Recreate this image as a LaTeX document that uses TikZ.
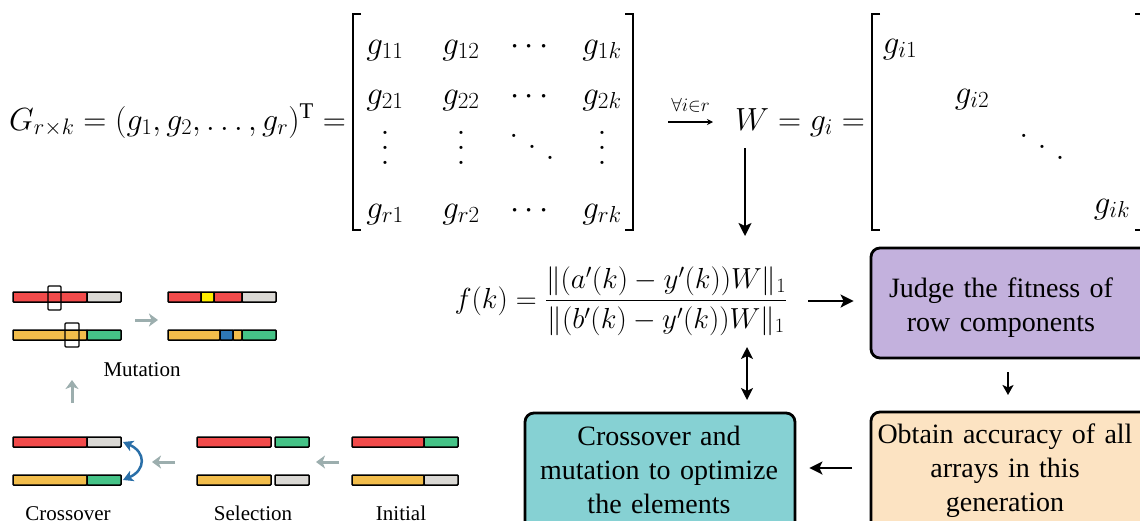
\RequirePackage{fix-cm}
\documentclass[tikz,border=0pt]{standalone}
\usepackage{amsmath}
\usepackage{fontspec}
\setmainfont{Liberation Serif}
\usetikzlibrary{arrows.meta}
\definecolor{gred}{HTML}{F24B4B}
\definecolor{ggrey}{HTML}{DAD8D4}
\definecolor{gyel}{HTML}{F2BD4B}
\definecolor{ggreen}{HTML}{45C387}
\definecolor{gmuty}{HTML}{FFEE00}
\definecolor{gmutb}{HTML}{2E78B7}
\definecolor{garrow}{HTML}{9CAEAE}
\definecolor{gcurve}{HTML}{2A6FA8}
\definecolor{boxpurple}{HTML}{C3B1DD}
\definecolor{boxorange}{HTML}{FCE3C2}
\definecolor{boxteal}{HTML}{86D1D3}
\newcommand\myvdots{\vbox{\baselineskip=0.45em\lineskiplimit=-10em\hbox{$.$}\hbox{$.$}\hbox{$.$}}}
\newcommand\myddots{\mathinner{\mkern1mu\raise0.75em\hbox{$.$}\mkern5mu\raise0.42em\hbox{$.$}\mkern5mu\raise0.09em\hbox{$.$}\mkern1mu}}
\tikzset{
  mth/.style={inner sep=0pt, font=\fontsize{32}{38}\selectfont},
  ent/.style={inner sep=0pt, font=\fontsize{33}{39}\selectfont},
  fkstyle/.style={inner sep=0pt, font=\fontsize{29}{35}\selectfont},
  brk/.style={line width=2.2pt, line cap=butt, line join=miter},
  arr/.style={line width=2pt, -{Stealth[length=13pt,width=13pt,inset=3pt]}},
  sarr/.style={line width=2pt, -{Stealth[length=10pt,width=11pt,inset=2.5pt]}},
  darr/.style={line width=2pt, {Stealth[length=12pt,width=12pt,inset=3pt]}-{Stealth[length=12pt,width=12pt,inset=3pt]}},
  box/.style={draw=black, line width=2.8pt, rounded corners=9pt, inner sep=0pt},
  boxtext/.style={font=\fontsize{28}{34}\selectfont, text width=270pt, align=center, inner sep=0pt, anchor=base},
  seg/.style={draw=black, line width=1.5pt, rounded corners=0.8pt},
  win/.style={draw=black, line width=1.3pt, rounded corners=1pt},
  garr/.style={draw=garrow, line width=3pt, -{Stealth[length=9pt,width=13pt,inset=2.5pt]}},
  galabel/.style={font=\fontsize{21}{25}\selectfont, inner sep=0pt, anchor=base},
}
\begin{document}
\begin{tikzpicture}[x=1pt,y=-1pt]
\useasboundingbox (0,0) rectangle (1140,520);
\clip (0,0) rectangle (1140,520);

% ---- top formula
\node[mth, anchor=base east] (G) at (346,130) {$G_{r\times k}=(g_1,g_2,\ldots,g_r)^{\mathrm{T}}=$};

% matrix 1
\draw[brk] (361,14) -- (353,14) -- (353,230) -- (361,230);
\draw[brk] (625,14) -- (633,14) -- (633,230) -- (625,230);
\node[ent, anchor=base] (m11) at (385,54) {$g_{11}$};
\node[ent, anchor=base] (m12) at (461,54) {$g_{12}$};
\node[ent, anchor=base] (m13) at (532,54) {$\cdots$};
\node[ent, anchor=base] (m14) at (602,54) {$g_{1k}$};
\node[ent, anchor=base] (m21) at (385,104) {$g_{21}$};
\node[ent, anchor=base] (m22) at (461,104) {$g_{22}$};
\node[ent, anchor=base] (m23) at (532,104) {$\cdots$};
\node[ent, anchor=base] (m24) at (602,104) {$g_{2k}$};
\node[ent] (m31) at (385,148) {$\myvdots$};
\node[ent] (m32) at (461,148) {$\myvdots$};
\node[ent] (m33) at (532,148) {$\myddots$};
\node[ent] (m34) at (602,148) {$\myvdots$};
\node[ent, anchor=base] (m41) at (385,218) {$g_{r1}$};
\node[ent, anchor=base] (m42) at (461,218) {$g_{r2}$};
\node[ent, anchor=base] (m43) at (532,218) {$\cdots$};
\node[ent, anchor=base] (m44) at (602,218) {$g_{rk}$};

% forall arrow
\coordinate (fa1) at (668,122);
\coordinate (fa2) at (713,122);
\draw[line width=1.2pt, -{Stealth[length=6pt,width=6pt]}] (fa1) -- node[above=9pt, inner sep=0pt, font=\fontsize{19}{22}\selectfont] (falabel) {$\forall i{\in} r$} (fa2);

% W
\node[mth, anchor=base west] (W) at (735,130) {$W=g_i=$};

% matrix 2
\draw[brk] (880,14) -- (872,14) -- (872,230) -- (880,230);
\draw[brk] (1135,14) -- (1143,14) -- (1143,230) -- (1135,230);
\node[ent, anchor=base] (w1) at (900,53) {$g_{i1}$};
\node[ent, anchor=base] (w2) at (972,103) {$g_{i2}$};
\node[ent] (w3) at (1042,148) {$\myddots$};
\node[ent, anchor=base] (wk) at (1112,213) {$g_{ik}$};

% down arrow from W
\coordinate (d1) at (745,148);
\coordinate (d2) at (745,236);
\draw[arr] (d1) -- (d2);

% fitness formula
\node[fkstyle] (fk) at (621,301) {$\displaystyle f(k)=\frac{\|(a'(k)-y'(k))W\|_1}{\|(b'(k)-y'(k))W\|_1}$};

% boxes
\node[box, fill=boxpurple, minimum width=280pt, minimum height=110pt] (judge) at (1011,303) {};
\node[boxtext] (judgeT) at (1001,297) {Judge the fitness of\\row components};
\node[box, fill=boxorange, minimum width=280pt, minimum height=130pt] (obtain) at (1011,477) {};
\node[boxtext] (obtainT) at (1005,443) {Obtain accuracy of all\\arrays in this\\generation};
\node[box, fill=boxteal, minimum width=270pt, minimum height=130pt] (cross) at (660,478) {};
\node[boxtext] (crossT) at (659,445) {Crossover and\\mutation to optimize\\the elements};

% flow arrows
\coordinate (r1) at (808,301);
\draw[arr, shorten >=16pt] (r1) -- (r1 -| judge.west);
\coordinate (s1) at (1008,372);
\coordinate (s2) at (1008,395);
\draw[sarr] (s1) -- (s2);
\coordinate (l1) at (852,468);
\draw[arr, shorten >=13pt] (l1) -- (l1 -| cross.east);
\coordinate (v1) at (747,347);
\coordinate (v2) at (747,400);
\draw[darr] (v1) -- (v2);

% ---- genetic algorithm sketch
% mutation (before)
\draw[seg, fill=gred] (13,292) rectangle (87,302);
\draw[seg, fill=ggrey] (87,292) rectangle (121,302);
\draw[seg, fill=gyel] (13,330) rectangle (87,340);
\draw[seg, fill=ggreen] (87,330) rectangle (121,340);
\draw[win] (48,286) rectangle (61,310);
\draw[win] (65,323) rectangle (79,347);
\draw[garr] (135,320) -- (158,320);
% mutation (after)
\draw[seg, fill=gred] (168,292) rectangle (201,302);
\draw[seg, fill=gmuty] (201,292) rectangle (214,302);
\draw[seg, fill=gred] (214,292) rectangle (242,302);
\draw[seg, fill=ggrey] (242,292) rectangle (276,302);
\draw[seg, fill=gyel] (168,330) rectangle (220,340);
\draw[seg, fill=gmutb] (220,330) rectangle (233,340);
\draw[seg, fill=gyel] (233,330) rectangle (242,340);
\draw[seg, fill=ggreen] (242,330) rectangle (276,340);
\node[galabel] (mutlab) at (142,376) {Mutation};
\draw[garr] (72,403) -- (72,380);

% crossover
\draw[seg, fill=gred] (13,437) rectangle (87,447);
\draw[seg, fill=ggrey] (87,437) rectangle (121,447);
\draw[seg, fill=gyel] (13,475) rectangle (87,485);
\draw[seg, fill=ggreen] (87,475) rectangle (121,485);
\draw[gcurve, line width=2.5pt, {Stealth[length=10pt,width=11pt,inset=2.5pt]}-{Stealth[length=10pt,width=11pt,inset=2.5pt]}] (123,442) .. controls (146,452) and (146,470) .. (123,480);
\draw[garr] (175,462) -- (152,462);
% selection
\draw[seg, fill=gred] (197,437) rectangle (271,447);
\draw[seg, fill=ggreen] (275,437) rectangle (309,447);
\draw[seg, fill=gyel] (197,475) rectangle (271,485);
\draw[seg, fill=ggrey] (275,475) rectangle (309,485);
\draw[garr] (339,462) -- (316,462);
% initial
\draw[seg, fill=gred] (352,437) rectangle (424,447);
\draw[seg, fill=ggreen] (424,437) rectangle (458,447);
\draw[seg, fill=gyel] (352,475) rectangle (424,485);
\draw[seg, fill=ggrey] (424,475) rectangle (458,485);

\node[galabel] (crosslab) at (68,520) {Crossover};
\node[galabel] (sellab) at (253,520) {Selection};
\node[galabel] (initlab) at (401,520) {Initial};
\end{tikzpicture}
\end{document}
